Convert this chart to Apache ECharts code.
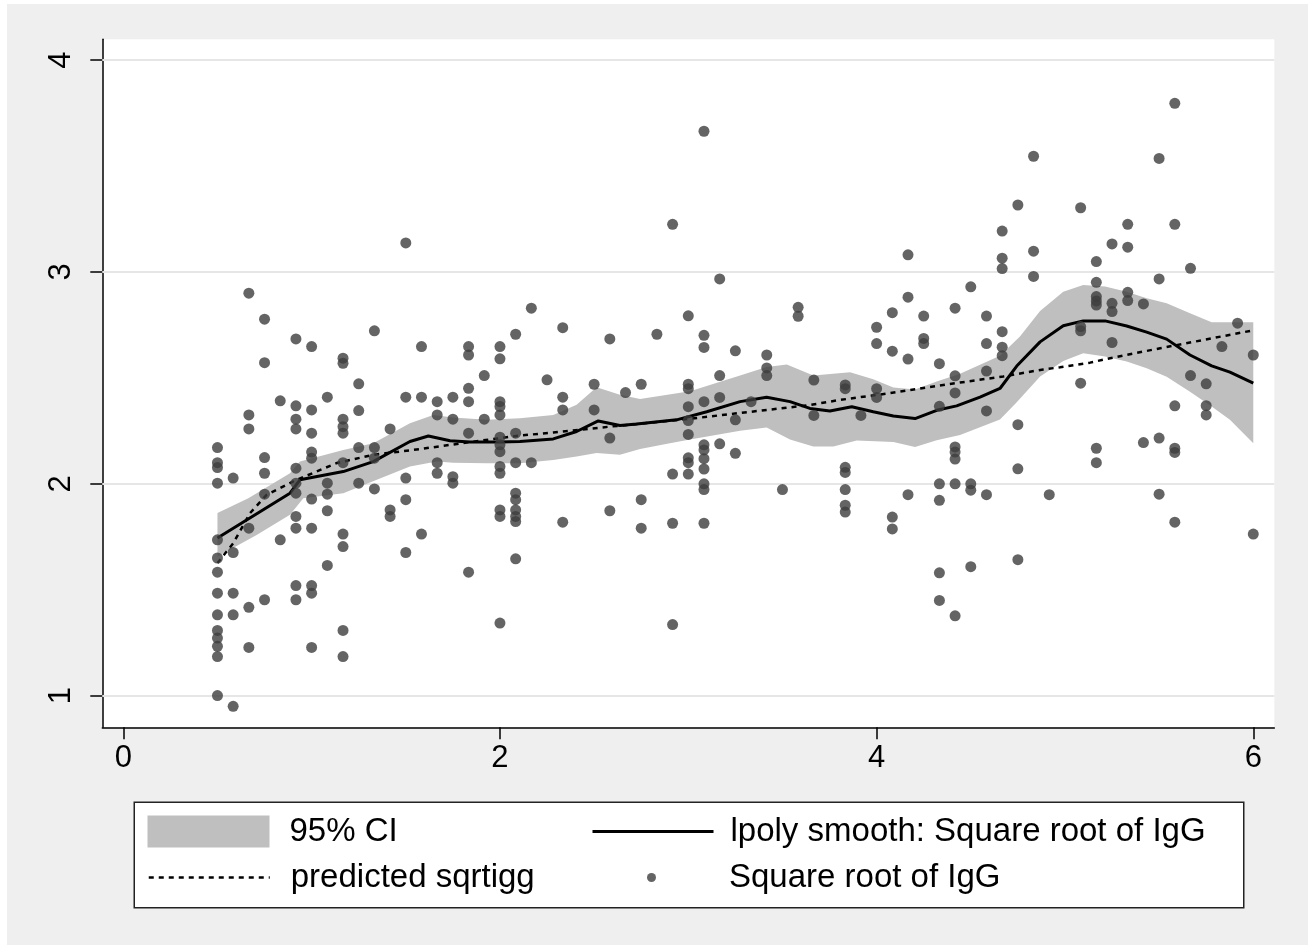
<!DOCTYPE html>
<html><head><meta charset="utf-8">
<script src="https://cdn.jsdelivr.net/npm/echarts@6/dist/echarts.min.js"></script>
<style>
html,body{margin:0;padding:0;background:#fff;}
#c{position:absolute;left:7px;top:4px;width:1301px;height:941px;}
</style>
</head><body><div id="c"></div>
<script>
// ---- data ----
const xTicks = [0, 2, 4, 6];
const yTicks = [1, 2, 3, 4];

// age in months (x = months / 12 years) and observed square root of IgG per month
const ageMonths = [6,7,8,9,10,11,12,13,14,15,16,17,18,19,20,21,22,23,24,25,26,27,28,30,31,32,33,34,35,36,37,38,39,40,41,42,43,44,46,47,48,49,50,51,52,53,54,55,56,57,58,59,61,62,63,64,65,66,67,68,69,70,71,72];
const sqrtIgG = [
  [2.171,2.100,2.077,2.003,1.736,1.650,1.583,1.484,1.382,1.308,1.272,1.233,1.185,1.001],
  [2.027,1.676,1.484,1.382,0.950],
  [2.900,2.325,2.259,1.791,1.417,1.228],
  [2.777,2.572,2.124,2.050,1.951,1.453],
  [2.392,1.736],
  [2.684,2.368,2.305,2.259,2.074,2.003,1.956,1.846,1.791,1.520,1.453],
  [2.648,2.349,2.239,2.150,2.121,1.928,1.791,1.520,1.484,1.228],
  [2.409,2.003,1.951,1.873,1.615],
  [2.593,2.569,2.305,2.270,2.239,2.100,1.763,1.704,1.308,1.185],
  [2.472,2.346,2.171,2.003],
  [2.722,2.171,2.121,1.976],
  [2.259,1.877,1.846],
  [3.137,2.409,2.027,1.925,1.676],
  [2.648,2.409,1.763],
  [2.388,2.325,2.100,2.050],
  [2.409,2.305,2.034,2.003],
  [2.648,2.608,2.451,2.388,2.239,1.583],
  [2.511,2.305],
  [2.648,2.590,2.388,2.365,2.325,2.220,2.184,2.152,2.082,2.050,1.877,1.846,1.343],
  [2.706,2.239,2.100,1.956,1.925,1.877,1.846,1.822,1.646],
  [2.829,2.100],
  [2.491],
  [2.737,2.409,2.349,1.819],
  [2.470,2.349],
  [2.684,2.216,1.873],
  [2.431],
  [2.470,1.925,1.791],
  [2.706],
  [3.225,2.046,1.814,1.336],
  [2.793,2.470,2.449,2.364,2.299,2.233,2.123,2.100,2.046],
  [3.664,2.701,2.644,2.388,2.184,2.160,2.119,2.070,2.000,1.973,1.814],
  [2.967,2.511,2.408,2.189],
  [2.628,2.302,2.144],
  [2.388],
  [2.608,2.547,2.511],
  [1.973],
  [2.833,2.791],
  [2.490,2.323],
  [2.467,2.449,2.078,2.054,1.973,1.899,1.867],
  [2.323],
  [2.739,2.662,2.449,2.408],
  [2.808,2.626,1.843,1.787],
  [3.081,2.881,2.589,1.949],
  [2.792,2.686,2.662],
  [2.567,2.366,2.000,1.922,1.580,1.450],
  [2.829,2.510,2.429,2.174,2.150,2.117,2.000,1.377],
  [2.930,2.000,1.970,1.609],
  [2.792,2.662,2.532,2.344,1.949],
  [3.193,3.065,3.016,2.718,2.645,2.605],
  [3.316,2.279,2.071,1.642],
  [3.546,3.098,2.979],
  [1.949],
  [3.303,2.742,2.722,2.475],
  [3.049,2.951,2.884,2.863,2.844,2.168,2.100],
  [3.132,2.852,2.813,2.667],
  [3.225,3.117,2.904,2.865],
  [2.849,2.195],
  [3.536,2.967,2.216,1.951],
  [3.796,3.225,2.368,2.168,2.148,1.819],
  [3.017,2.511],
  [2.472,2.369,2.325],
  [2.648],
  [2.758],
  [2.608,1.763]
];

// lpoly smooth
const smoothX = [0.5,0.885,0.938,1.168,1.327,1.522,1.620,1.735,1.841,2.000,2.106,2.283,2.407,2.522,2.637,2.726,2.938,3.098,3.275,3.416,3.540,3.646,3.752,3.868,3.982,4.089,4.204,4.319,4.425,4.549,4.655,4.744,4.868,4.991,5.097,5.213,5.328,5.434,5.540,5.664,5.779,5.876,6.0];
const smoothY = [1.744,1.956,2.019,2.058,2.105,2.200,2.226,2.203,2.197,2.197,2.200,2.212,2.247,2.297,2.275,2.282,2.302,2.340,2.388,2.409,2.388,2.356,2.344,2.364,2.340,2.320,2.308,2.347,2.368,2.409,2.450,2.556,2.670,2.746,2.769,2.769,2.745,2.716,2.683,2.608,2.557,2.527,2.475];

// 95% CI bounds
const ciUpperX = [0.5,0.664,0.885,0.938,1.168,1.327,1.522,1.646,1.752,1.929,2.106,2.283,2.407,2.513,2.637,2.744,3.009,3.275,3.416,3.523,3.664,3.859,3.982,4.089,4.204,4.319,4.443,4.655,4.761,4.868,4.991,5.097,5.213,5.328,5.434,5.540,5.664,5.779,5.876,6.0];
const ciUpperY = [1.862,1.932,2.050,2.105,2.160,2.192,2.286,2.325,2.313,2.302,2.310,2.325,2.373,2.456,2.420,2.400,2.437,2.511,2.551,2.563,2.511,2.527,2.494,2.455,2.445,2.483,2.520,2.605,2.695,2.816,2.906,2.939,2.931,2.907,2.876,2.852,2.805,2.763,2.763,2.763];
const ciLowerX = [0.5,0.708,0.885,0.956,1.168,1.346,1.522,1.664,1.752,1.929,2.106,2.283,2.407,2.513,2.637,2.744,2.902,3.009,3.275,3.416,3.540,3.664,3.770,3.894,4.089,4.204,4.319,4.443,4.655,4.744,4.868,4.991,5.097,5.213,5.328,5.434,5.540,5.664,5.779,5.876,6.0];
const ciLowerY = [1.657,1.759,1.854,1.932,1.956,2.019,2.082,2.105,2.100,2.097,2.097,2.113,2.129,2.145,2.137,2.165,2.192,2.209,2.250,2.266,2.209,2.176,2.176,2.205,2.198,2.174,2.206,2.231,2.304,2.385,2.507,2.580,2.616,2.601,2.577,2.546,2.506,2.435,2.365,2.302,2.192];

// predicted sqrtigg
const predX = [0.5,0.584,0.673,0.761,0.921,1.133,1.327,1.575,1.841,2.106,2.283,2.584,3.009,3.239,3.540,3.646,3.805,4.071,4.443,4.673,4.885,4.974,5.133,5.240,5.506,5.735,5.991];
const predY = [1.626,1.720,1.862,1.948,2.019,2.098,2.137,2.164,2.197,2.228,2.242,2.270,2.307,2.331,2.361,2.372,2.396,2.428,2.478,2.507,2.540,2.550,2.572,2.593,2.640,2.679,2.723];

// ---- chart ----
const FONT = '"Liberation Sans", Arial, Helvetica, sans-serif';
const scatterData = [];
ageMonths.forEach((m, i) => sqrtIgG[i].forEach(v => scatterData.push([m / 12, v])));
const pairs = (xs, ys) => xs.map((x, i) => [x, ys[i]]);
const legendText = (pad) => ({fontSize: 33, color: '#000', fontFamily: FONT, padding: [0, 0, 0, pad]});

const chart = echarts.init(document.getElementById('c'), null, {renderer: 'canvas'});
chart.setOption({
  animation: false,
  backgroundColor: '#efefef',
  grid: {left: 95.3, top: 35.3, width: 1172, height: 688, show: true, backgroundColor: '#ffffff', borderWidth: 0, containLabel: false},
  xAxis: {
    type: 'value', min: -0.1115, max: 6.1116,
    axisLine: {show: true, onZero: false, lineStyle: {color: '#000', width: 1.5}},
    axisTick: {show: true, customValues: xTicks, length: 12, lineStyle: {color: '#000', width: 1.5}},
    axisLabel: {customValues: xTicks, fontSize: 31, color: '#000', fontFamily: FONT, margin: 16},
    splitLine: {show: false}
  },
  yAxis: {
    type: 'value', min: 0.851, max: 4.098,
    axisLine: {show: true, onZero: false, lineStyle: {color: '#000', width: 1.5}},
    axisTick: {show: true, customValues: yTicks, length: 12, lineStyle: {color: '#000', width: 1.5}},
    axisLabel: {customValues: yTicks, rotate: 90, fontSize: 31, color: '#000', fontFamily: FONT, margin: 25},
    splitLine: {show: false}
  },
  legend: [
    {data: [{name: '95% CI', icon: 'rect'}], left: 140.5, top: 811, padding: 0, itemWidth: 122, itemHeight: 32, selectedMode: false,
     textStyle: legendText(15)},
    {data: ['predicted sqrtigg'], left: 140.5, top: 857, padding: 0, itemWidth: 121, itemHeight: 20, selectedMode: false,
     itemStyle: {opacity: 0, borderWidth: 0},
     lineStyle: {width: 2.5, color: '#000', type: [5, 5]},
     textStyle: legendText(16)},
    {data: ['lpoly smooth: Square root of IgG'], left: 584, top: 811, padding: 0, itemWidth: 121, itemHeight: 20, selectedMode: false,
     itemStyle: {opacity: 0, borderWidth: 0},
     lineStyle: {width: 3, color: '#000'},
     textStyle: legendText(12)},
    {data: [{name: 'Square root of IgG', icon: 'circle'}], left: 640, top: 857, padding: 0, itemWidth: 121, itemHeight: 9, selectedMode: false,
     textStyle: legendText(12)}
  ],
  graphic: [{
    type: 'rect', left: 126.5, top: 797.5, silent: true,
    shape: {width: 1109.5, height: 105.5},
    style: {fill: '#ffffff', stroke: '#222', lineWidth: 1.5}
  }],
  series: [
    {
      type: 'custom', name: '95% CI', coordinateSystem: 'cartesian2d', silent: true, z: 2,
      itemStyle: {color: '#bfbfbf'},
      data: [[ciUpperX[0], ciUpperY[0]]],
      renderItem: function (params, api) {
        const pts = [];
        for (let i = 0; i < ciUpperX.length; i++) pts.push(api.coord([ciUpperX[i], ciUpperY[i]]));
        for (let i = ciLowerX.length - 1; i >= 0; i--) pts.push(api.coord([ciLowerX[i], ciLowerY[i]]));
        return {type: 'polygon', shape: {points: pts}, style: {fill: '#bfbfbf'}};
      },
      markLine: {
        silent: true, symbol: 'none', z: 1, animation: false,
        label: {show: false},
        lineStyle: {color: '#e6e6e6', width: 2, type: 'solid'},
        data: yTicks.map(v => ({yAxis: v}))
      }
    },
    {
      type: 'line', name: 'lpoly smooth: Square root of IgG', z: 3, symbol: 'none', silent: true,
      lineStyle: {color: '#000', width: 3}, itemStyle: {color: '#000'},
      data: pairs(smoothX, smoothY)
    },
    {
      type: 'line', name: 'predicted sqrtigg', z: 4, symbol: 'none', silent: true,
      lineStyle: {color: '#000', width: 2.5, type: [5, 5]}, itemStyle: {color: '#000'},
      data: pairs(predX, predY)
    },
    {
      type: 'scatter', name: 'Square root of IgG', z: 5, symbol: 'circle', symbolSize: 11, silent: true,
      itemStyle: {color: '#3d3d3d'},
      data: scatterData
    }
  ]
});
</script>
</body></html>
